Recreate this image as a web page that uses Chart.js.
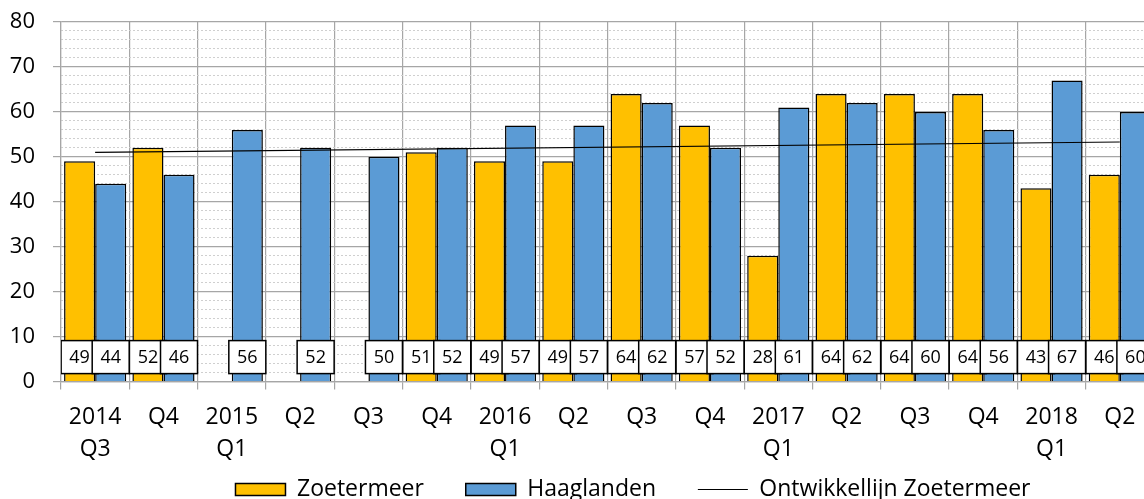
<!DOCTYPE html>
<html>
<head>
<meta charset="utf-8">
<script src="https://cdn.jsdelivr.net/npm/chart.js@4.4.0/dist/chart.umd.min.js"></script>
<style>
  html, body { margin: 0; padding: 0; overflow: hidden; background: #fff; }
  #wrap { width: 1262px; height: 499px; }
</style>
</head>
<body>
<div id="wrap"><canvas id="chart"></canvas></div>
<script>
// data
const labels = [
  ["2014", "Q3"], "Q4", ["2015", "Q1"], "Q2", "Q3", "Q4",
  ["2016", "Q1"], "Q2", "Q3", "Q4",
  ["2017", "Q1"], "Q2", "Q3", "Q4",
  ["2018", "Q1"], "Q2",
];
const zoetermeer = [49, 52, null, null, null, 51, 49, 49, 64, 57, 28, 64, 64, 64, 43, 46];
const haaglanden = [44, 46, 56, 52, 50, 52, 57, 57, 62, 52, 61, 62, 60, 56, 67, 60];
// trend line: only its two end points
const trend = [51.0, null, null, null, null, null, null, null, null, null, null, null, null, null, null, 53.3];
const yTicks = [0, 10, 20, 30, 40, 50, 60, 70, 80];

const FONT = '"Open Sans", sans-serif';

// white value boxes at the foot of each bar
const valueBoxes = {
  id: "valueBoxes",
  afterDatasetsDraw(chart) {
    const ctx = chart.ctx;
    const area = chart.chartArea;
    ctx.save();
    ctx.beginPath();
    ctx.rect(area.left, 0, area.right - area.left, chart.height);
    ctx.clip();
    ctx.font = "18px " + FONT;
    ctx.textAlign = "center";
    ctx.textBaseline = "middle";
    chart.data.datasets.forEach((ds, i) => {
      if (ds.type === "line") return;
      chart.getDatasetMeta(i).data.forEach((bar, j) => {
        const v = ds.data[j];
        if (v == null) return;
        const w = 37, h = 33;
        const top = area.bottom - 41;
        ctx.fillStyle = "#fff";
        ctx.fillRect(bar.x - w / 2, top, w, h);
        ctx.strokeStyle = "#000";
        ctx.lineWidth = 1.5;
        ctx.strokeRect(bar.x - w / 2, top, w, h);
        ctx.fillStyle = "#000";
        ctx.fillText(String(v), bar.x, top + h / 2 + 1);
      });
    });
    ctx.restore();
  },
};

// the legend sits a bit right of the plot's centre in the original
const legendShift = {
  id: "legendShift",
  afterLayout(chart) {
    if (!chart.legend) return;
    chart.legend.left += 56;
    chart.legend.right += 56;
  },
};

const ctx = document.getElementById("chart").getContext("2d");

new Chart(ctx, {
  type: "bar",
  data: {
    labels: labels,
    datasets: [
      {
        label: "Zoetermeer",
        data: zoetermeer,
        backgroundColor: "#FFC000",
        borderColor: "#000",
        borderWidth: 1.5,
        pointStyle: "rect",
        categoryPercentage: 0.91,
        barPercentage: 1.0,
        order: 1,
      },
      {
        label: "Haaglanden",
        data: haaglanden,
        backgroundColor: "#5B9BD5",
        borderColor: "#000",
        borderWidth: 1.5,
        pointStyle: "rect",
        categoryPercentage: 0.91,
        barPercentage: 1.0,
        order: 1,
      },
      {
        type: "line",
        label: "Ontwikkellijn Zoetermeer",
        data: trend,
        borderColor: "#000",
        backgroundColor: "#000",
        borderWidth: 1.2,
        pointRadius: 0,
        pointStyle: "line",
        spanGaps: true,
        order: 0,
      },
    ],
  },
  options: {
    responsive: true,
    maintainAspectRatio: false,
    animation: false,
    layout: {
      padding: { left: 0, right: 108, top: 0, bottom: -12 },
    },
    plugins: {
      tooltip: { enabled: false },
      legend: {
        position: "bottom",
        labels: {
          usePointStyle: true,
          pointStyleWidth: 50,
          boxHeight: 12,
          padding: 0,
          color: "#000",
          font: { family: FONT, size: 23 },
          sort: (a, b) => a.datasetIndex - b.datasetIndex,
          generateLabels: (chart) => {
            const items = Chart.defaults.plugins.legend.labels.generateLabels(chart);
            const last = chart.data.datasets.length - 1;
            items.forEach((it) => {
              if (it.datasetIndex < last) it.text = it.text + "       ";
            });
            return items;
          },
        },
      },
    },
    scales: {
      x: {
        grid: { color: "#A6A6A6", lineWidth: 1.2, tickLength: 8, offset: true },
        border: { color: "#A6A6A6", width: 1.2 },
        ticks: {
          color: "#000",
          font: { family: FONT, size: 23, lineHeight: 1.4 },
          maxRotation: 0,
          autoSkip: false,
          padding: 12,
        },
      },
      y: {
        min: 0,
        max: 80,
        afterBuildTicks: (scale) => {
          scale.ticks = yTicks.map((v) => ({ value: v }));
        },
        afterFit: (scale) => {
          scale.width = 61;
          scale.paddingTop = 22;
        },
        grid: { color: "#A6A6A6", lineWidth: 1.2, tickLength: 8 },
        border: { color: "#A6A6A6", width: 1.2 },
        ticks: {
          color: "#000",
          font: { family: FONT, size: 22, lineHeight: 1.0 },
          padding: 18,
        },
      },
      yMinor: {
        position: "left",
        min: 0,
        max: 80,
        ticks: { display: false, stepSize: 2 },
        grid: {
          drawTicks: false,
          lineWidth: 1,
          color: (c) => (c.tick && c.tick.value % 10 === 0 ? "rgba(0,0,0,0)" : "#CFCFCF"),
        },
        border: { display: false, dash: [2, 2] },
        afterFit: (scale) => {
          scale.width = 0;
        },
      },
    },
  },
  plugins: [valueBoxes, legendShift],
});
</script>
</body>
</html>
